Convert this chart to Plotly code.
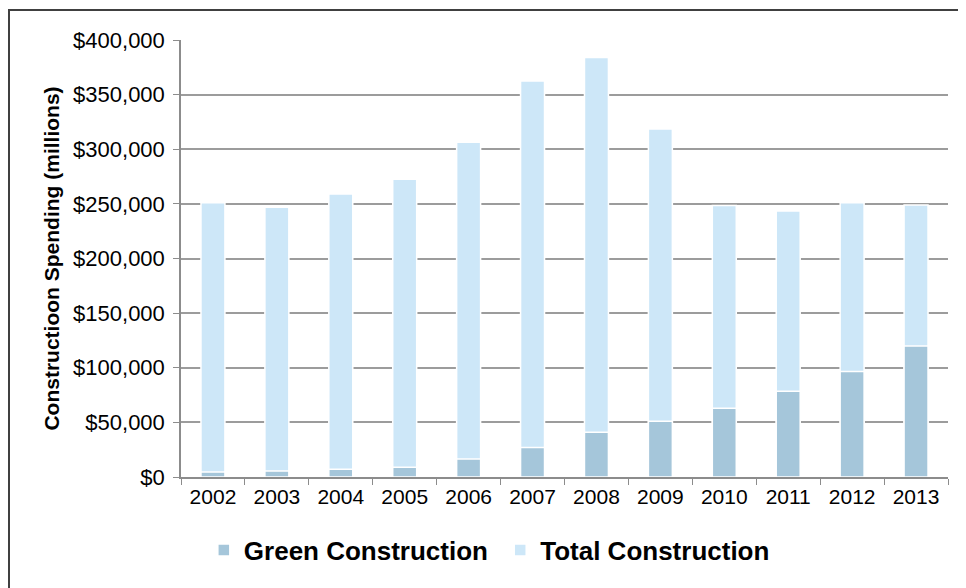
'''
    Green vs total construction spending, 2002-2013 (bar chart).
'''
import plotly.graph_objects as go

years = ['2002', '2003', '2004', '2005', '2006', '2007',
         '2008', '2009', '2010', '2011', '2012', '2013']
# values in $ millions
total_construction = [251000, 247000, 259000, 272500, 306500, 362500,
                      384000, 318500, 248500, 243500, 251000, 249000]
green_construction = [4500, 5500, 7000, 9000, 16500, 27000,
                      41000, 51000, 63000, 78500, 96500, 120000]

GREEN_COLOR = '#a5c6da'
TOTAL_COLOR = '#cde7f8'
FONT = 'Liberation Sans, Arial, sans-serif'

# plot area in figure pixels
PX_L, PX_R, PX_T, PX_B = 173, 940, 32, 469
W, H = 966, 588

fig = go.Figure()
# total drawn first, green overlaid from the baseline
fig.add_trace(go.Bar(x=years, y=total_construction, name='<b>Total Construction</b>',
                     marker=dict(color=TOTAL_COLOR, line=dict(color='white', width=1.5))))
fig.add_trace(go.Bar(x=years, y=green_construction, name='<b>Green Construction</b>&nbsp;',
                     marker=dict(color=GREEN_COLOR, line=dict(color='white', width=1.5))))

fig.update_layout(
    width=W, height=H,
    margin=dict(l=PX_L, r=W - PX_R, t=PX_T, b=H - PX_B),
    paper_bgcolor='white', plot_bgcolor='white',
    barmode='overlay', bargap=0.625,
    font=dict(family=FONT, color='black', size=21),
    showlegend=True,
    legend=dict(orientation='h', x=0.402, xanchor='center', y=-0.167, yanchor='middle',
                traceorder='reversed', font=dict(size=26, family=FONT),
                itemwidth=30),
)

fig.update_yaxes(
    range=[0, 400000], dtick=50000, tickprefix='$', tickformat=',',
    showgrid=True, gridcolor='#9c9c9c', gridwidth=1.5,
    showline=True, linecolor='#8c8c8c', linewidth=1.5,
    ticks='outside', ticklen=6, tickcolor='#8c8c8c',
    ticklabelstandoff=4,
    zeroline=False,
    tickfont=dict(size=22),
    title=dict(text='<b>Constructioon Spending (millions)</b>', font=dict(size=21),
               standoff=8),
)
fig.update_xaxes(
    type='category', tickson='boundaries',
    showline=True, linecolor='#8c8c8c', linewidth=1.5,
    ticks='outside', ticklen=6, tickcolor='#8c8c8c',
    showgrid=False, tickfont=dict(size=21),
)

# dark frame around the chart (right and bottom edges fall off the page)
fig.add_shape(type='rect', xref='paper', yref='paper',
              x0=(1 - PX_L) / (PX_R - PX_L), x1=1.05,
              y0=-0.3, y1=(PX_B - 2) / (PX_B - PX_T),
              line=dict(color='#404040', width=2), fillcolor='rgba(0,0,0,0)')

fig.write_html('out.html')
